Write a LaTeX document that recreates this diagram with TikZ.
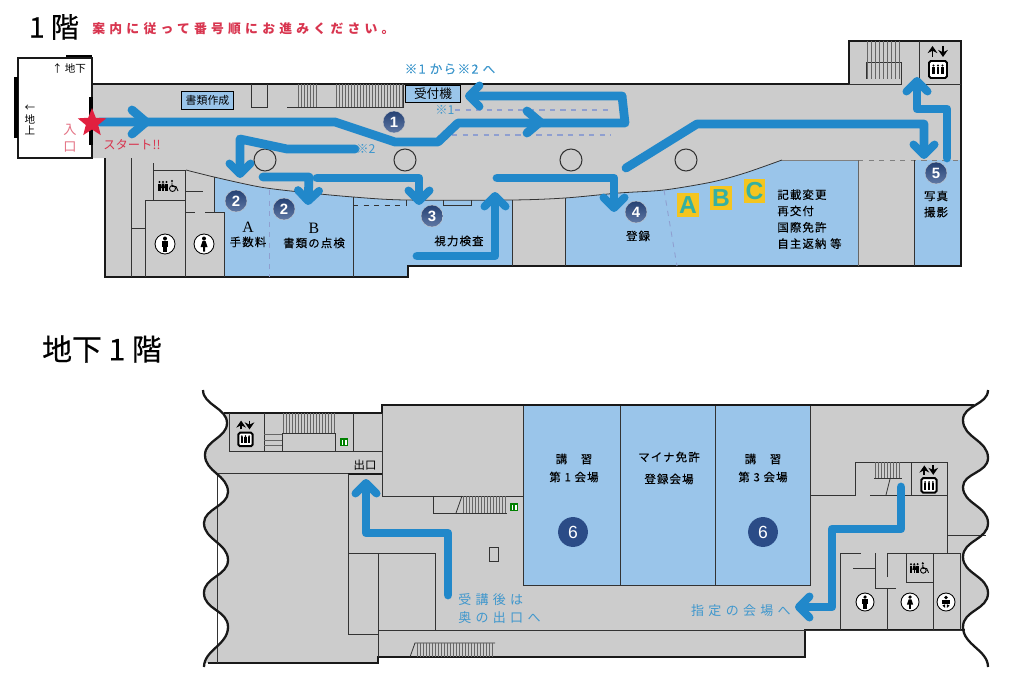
\documentclass[tikz,border=0pt]{standalone}
\usepackage{fontspec}
\setmainfont{Noto Sans CJK JP}
\newfontfamily\jptitle[FakeBold = 0.4]{Noto Sans CJK JP}
\newfontfamily\jpwide[LetterSpace=33]{Noto Sans CJK JP}
\newfontfamily\jpnote[LetterSpace=10, FakeBold = 0.12]{Noto Sans CJK JP}
\newfontfamily\tagfont{Liberation Sans}
\newfontfamily\romanfont{Liberation Serif}
\usetikzlibrary{arrows.meta, shapes.geometric}
\definecolor{floorgray}{HTML}{CCCCCC}
\definecolor{roomblue}{HTML}{9AC5EA}
\definecolor{routeblue}{HTML}{2188CA}
\definecolor{notered}{HTML}{D8354F}
\definecolor{startred}{HTML}{E1203F}
\definecolor{noteblue}{HTML}{3F97CC}
\definecolor{navy}{HTML}{2B4C87}
\definecolor{dashblue}{HTML}{8F9FD0}
\definecolor{tagyellow}{HTML}{F4C51F}
\definecolor{tagteal}{HTML}{35B0A2}
\tikzset{
    wall/.style = {line width = 0.45pt, draw = black!80},
    outer/.style = {line width = 0.85pt, draw = black!90},
    hatch/.style = {line width = 0.25pt, draw = black!60},
    route/.style = {line width = 5pt, draw = routeblue, line cap = round, line join = round},
    routearrow/.style = {route, -{Straight Barb[round, length = 6pt, width = 12pt, line width = 4.5pt]}},
    room/.style = {fill = roomblue, draw = none},
    lab/.style = {font = \jpnote\fontsize{6.5}{8}\selectfont, inner sep = 0pt, text = black},
    note/.style = {font = \jpwide\fontsize{7.4}{10}\selectfont, inner sep = 0pt, text = noteblue},
    marker/.style = {circle, minimum size = 12.5pt, inner sep = 0pt, draw = black!20, line width = 0.2pt, top color = navy!85!black, bottom color = navy!75!white, text = white, font = \tagfont\bfseries\fontsize{8.5}{9}\selectfont},
    seat/.style = {circle, fill = navy, minimum size = 17pt, inner sep = 0pt, text = white, font = \tagfont\fontsize{10}{11}\selectfont},
    desk/.style = {fill = tagyellow, minimum width = 12.5pt, minimum height = 13.5pt, inner sep = 0pt, text = tagteal, font = \tagfont\bfseries\fontsize{14}{14}\selectfont},
    man/.pic = {
        \draw[line width = 0.5pt, fill = white] (0, 0) circle[radius = 10];
        \fill (0, -5.5) circle[radius = 2];
        \fill (-3.2, -3) rectangle (3.2, 2.5);
        \fill (-2.2, 2) rectangle (2.2, 7.5);
    },
    woman/.pic = {
        \draw[line width = 0.5pt, fill = white] (0, 0) circle[radius = 10];
        \fill (0, -5.5) circle[radius = 2];
        \fill (-1.5, -3) -- (1.5, -3) -- (3.5, 3) -- (1, 3) -- (1, 7.5) -- (-1, 7.5) -- (-1, 3) -- (-3.5, 3) -- cycle;
    },
    baby/.pic = {
        \draw[line width = 0.5pt, fill = white] (0, 0) circle[radius = 10];
        \fill (0, -5) circle[radius = 2.2];
        \fill (-4, -2) rectangle (4, 2);
        \fill (-4, 4) -- (-1, 2.5) -- (-1, 6.5) -- cycle;
        \fill (4, 4) -- (1, 2.5) -- (1, 6.5) -- cycle;
    },
    toilet/.pic = {
        \fill (-9.5, -4) circle[radius = 1.2];
        \fill (-10.7, -2.5) rectangle (-8.3, 5);
        \fill (-6, -4) circle[radius = 1.2];
        \fill (-7.2, -2.5) -- (-4.8, -2.5) -- (-4, 2) -- (-8, 2) -- cycle;
        \fill (-6.7, 2) rectangle (-5.3, 5);
        \fill (-2.5, -4) circle[radius = 1.2];
        \fill (-3.7, -2.5) rectangle (-1.3, 5);
        \fill (3, -5) circle[radius = 1.2];
        \draw[line width = 0.5pt] (3, -3.5) -- (3, 0.5) -- (7, 0.5) -- (9, 5);
        \draw[line width = 0.5pt] (3.5, 2.5) circle[radius = 3];
    },
    lift/.pic = {
        \draw[line width = 1.1pt, fill = white, rounded corners = 1pt] (-9, -8) rectangle (9, 9);
        \foreach \x in {-4.5, 0, 4.5}{
            \fill (\x, -3.5) circle[radius = 1.2];
            \fill (\x - 1.4, -2) rectangle (\x + 1.4, 5.5);
        }
        \draw[line width = 1.1pt, -{Stealth[length = 4pt, width = 5.5pt]}] (-5.5, -12) -- (-5.5, -23);
        \draw[line width = 1.1pt, -{Stealth[length = 4pt, width = 5.5pt]}] (5, -23) -- (5, -12);
    },
    exitsign/.pic = {
        \fill[green!50!black] (-4, -4) rectangle (4, 4);
        \fill[white] (-2.5, -2.5) rectangle (2.5, 2.5);
        \fill[green!50!black] (-1, -2.5) rectangle (1, 2.5);
    },
}
\begin{document}
\begin{tikzpicture}[x = 0.02cm, y = -0.02cm]
    \useasboundingbox (0, 0) rectangle (1024, 696);

    \node[inner sep = 0pt, font = \jptitle\fontsize{16}{18}\selectfont] (titleone) at (54, 27) {1 階};
    \node[anchor = west, inner sep = 0pt, text = notered, font = \jpwide\bfseries\fontsize{7.3}{9}\selectfont] (guide) at (92, 29) {案内に従って番号順にお進みください。};
    \node[inner sep = 0pt, font = \jptitle\fontsize{17}{19}\selectfont] (titletwo) at (102, 349) {地下 1 階};

    \fill[floorgray] (92, 84) -- (849, 84) -- (849, 41) -- (961, 41) -- (961, 266) -- (408, 266) -- (408, 277) -- (105, 277) -- (105, 158) -- (92, 158) -- cycle;
    \begin{scope}
        \clip plot[smooth] coordinates {(186, 170) (214, 177) (260, 187) (300, 192) (353, 197) (405, 200) (512, 200) (565, 198) (619, 193) (664, 190) (712, 182) (745, 173) (782, 160)} -- (961, 160) -- (961, 277) -- (186, 277) -- cycle;
        \fill[room] (214, 160) rectangle (224, 212);
        \fill[room] (224, 160) rectangle (353, 277);
        \fill[room] (353, 160) rectangle (512, 266);
        \fill[room] (353, 266) rectangle (408, 277);
        \fill[room] (565, 160) rectangle (858, 266);
        \fill[room] (914, 160) rectangle (961, 266);
    \end{scope}
    \draw[wall] plot[smooth] coordinates {(186, 170) (214, 177) (260, 187) (300, 192) (353, 197) (405, 200) (512, 200) (565, 198) (619, 193) (664, 190) (712, 182) (745, 173) (782, 160)};
    \draw[wall, black!50] (782, 160) -- (858, 160);
    \draw[wall, black!50, dashed] (858, 160) -- (961, 160);

    \draw[outer] (105, 158) -- (105, 277) -- (408, 277) -- (408, 266) -- (961, 266) -- (961, 41) -- (849, 41) -- (849, 84) -- (92, 84);
    \draw[wall] (131, 158) -- (131, 277);
    \draw[wall] (131, 228) -- (145, 228);
    \draw[wall] (145, 277) -- (145, 200) -- (185, 200);
    \draw[wall] (153, 163) -- (153, 200);
    \draw[wall] (153, 170) -- (186, 170);
    \draw[wall] (185, 170) -- (185, 277);
    \draw[wall] (185, 191) -- (203, 191);
    \draw[wall] (185, 212) -- (195, 212);
    \draw[wall] (205, 212) -- (224, 212) -- (224, 277);
    \draw[wall] (214, 177) -- (214, 212);
    \draw[wall] (353, 197) -- (353, 277);
    \draw[wall] (512, 200) -- (512, 266);
    \draw[wall] (565, 198) -- (565, 266);
    \draw[wall, black!60] (858, 160) -- (858, 266);
    \draw[wall] (914, 160) -- (914, 266);
    \draw[wall, dashed] (353, 205) -- (405, 205);
    \draw[wall] (406, 200) -- (406, 206);
    \draw[wall] (443, 200) -- (443, 205) -- (471, 205) -- (471, 200);
    \draw[line width = 0.5pt, dashed, dashblue] (269, 190) -- (269, 277);
    \draw[line width = 0.5pt, dashed, dashblue] (664, 190) -- (677, 266);
    \draw[line width = 0.6pt, dashed, dashblue] (455, 110) -- (611, 110);
    \draw[line width = 0.6pt, dashed, dashblue] (452, 135) -- (611, 135);

    \draw[wall] (251, 84) -- (251, 107) -- (267, 107) -- (267, 84);
    \draw[wall] (287, 107) -- (403, 107) -- (403, 84);
    \foreach \x in {298, 301, ..., 316}
        \draw[hatch] (\x, 84) -- (\x, 107);
    \foreach \x in {336, 339, ..., 403}
        \draw[hatch] (\x, 84) -- (\x, 107);
    \draw[wall] (849, 84) -- (901, 84) -- (901, 62) -- (866, 62) -- (866, 79);
    \draw[wall] (919, 41) -- (919, 84) -- (961, 84);
    \foreach \x in {867, 871, ..., 899}
        \draw[hatch] (\x, 41) -- (\x, 79);

    \foreach \x in {265, 405, 571, 686}
        \draw[wall, line width = 0.6pt] (\x, 160) circle[radius = 11];

    \draw[outer, fill = white, line width = 1.2pt] (18, 58) rectangle (92, 158);
    \draw[line width = 1.4pt] (66, 56) -- (92, 56);
    \draw[line width = 2pt] (16, 77) -- (16, 138);
    \draw[line width = 2pt] (91, 97) -- (91, 145);
    \node[lab, font = \fontsize{6}{7}\selectfont] (downstair) at (69, 68) {↑ 地下};
    \node[lab, font = \fontsize{6}{8}\selectfont, align = center] (upstair) at (30, 120) {←\\[-1pt]地\\[-2pt]上};
    \node[inner sep = 0pt, text = notered!70, align = center, font = \fontsize{7.5}{9.5}\selectfont] (entrance) at (70, 138) {入\\口};

    \node[draw, line width = 0.6pt, fill = roomblue, minimum width = 30pt, minimum height = 10.5pt, inner sep = 0pt, font = \fontsize{6.2}{7}\selectfont] (docs) at (207.5, 100.5) {書類作成};
    \node[draw, line width = 0.7pt, fill = roomblue, minimum width = 31.5pt, minimum height = 10pt, inner sep = 0pt, font = \fontsize{7.2}{8}\selectfont] (kiosk) at (433, 94) {受付機};

    \draw[route] (100, 122) -- (335, 122) -- (395, 142) -- (438, 142) -- (458, 123) -- (625, 123) -- (622, 96) -- (480, 96);
    \draw[routearrow] (622, 96) -- (465, 96);
    \draw[route] (132, 110) -- (146, 122) -- (132, 134);
    \draw[route] (527, 111) -- (540, 122) -- (527, 133);
    \draw[routearrow] (355, 149) -- (287, 149) -- (240, 139) -- (240, 178);
    \draw[routearrow] (263, 177) -- (309, 177) -- (308, 205);
    \draw[routearrow] (317, 178) -- (419, 178) -- (419, 205);
    \draw[routearrow] (417, 256) -- (495, 256) -- (495, 192);
    \draw[routearrow] (497, 178) -- (614, 178) -- (614, 212);
    \draw[routearrow] (626, 168) -- (697, 124) -- (924, 124) -- (924, 159);
    \draw[routearrow] (947, 158) -- (947, 109) -- (917, 109) -- (917, 77);

    \node[star, star points = 5, star point ratio = 2.3, fill = startred, minimum size = 17pt, inner sep = 0pt] (start) at (92, 123) {};
    \node[anchor = west, inner sep = 0pt, text = notered, font = \fontsize{7}{9}\selectfont] (startlab) at (103, 145) {スタート!!};
    \node[inner sep = 0pt, text = noteblue, font = \jpnote\fontsize{7.2}{9}\selectfont] (fromto) at (450, 69) {※1 から※2 へ};
    \node[note, font = \fontsize{7}{9}\selectfont] (markone) at (445, 110) {※1};
    \node[note, font = \fontsize{7}{9}\selectfont] (marktwo) at (366, 149) {※2};

    \node[marker] (stepone) at (394, 122) {1};
    \node[marker] (steptwoa) at (236, 201) {2};
    \node[marker] (steptwob) at (284, 209) {2};
    \node[marker] (stepthree) at (432, 216) {3};
    \node[marker] (stepfour) at (636, 212) {4};
    \node[marker] (stepfive) at (936, 173) {5};

    \node[lab, font = \romanfont\fontsize{9}{10}\selectfont] (roomA) at (248, 227) {A};
    \node[lab] (fee) at (248, 242) {手数料};
    \node[lab, font = \romanfont\fontsize{9}{10}\selectfont] (roomB) at (314, 228) {B};
    \node[lab] (check) at (314, 243) {書類の点検};
    \node[lab] (eyes) at (459, 241) {視力検査};
    \node[lab] (register) at (638, 236) {登録};
    \node[lab, align = center, font = \jpnote\fontsize{6.5}{9.2}\selectfont] (photo) at (936, 204) {写真\\撮影};
    \node[lab, anchor = north west, align = left, font = \jpnote\fontsize{6.5}{9.3}\selectfont] (counter) at (777, 189) {記載変更\\再交付\\国際免許\\自主返納 等};
    \node[desk] (deskA) at (688, 205) {A};
    \node[desk] (deskB) at (721, 198) {B};
    \node[desk] (deskC) at (754.5, 191) {C};

    \pic at (165, 244) {man};
    \pic at (204, 244) {woman};
    \pic at (169, 186) {toilet};
    \pic at (938, 69) {lift};

    \begin{scope}
        \clip (100, 413) -- (382, 413) -- (382, 405) -- (1100, 405) -- (1100, 630) -- (805, 630) -- (805, 657) -- (378, 657) -- (378, 663) -- (100, 663) -- cycle;
        \fill[floorgray] (203, 390) .. controls (203, 405) and (227, 408) .. (227, 423) .. controls (227, 438) and (205, 440) .. (205, 455) .. controls (205, 472) and (228, 475) .. (228, 492) .. controls (228, 506) and (204, 509) .. (204, 523) .. controls (204, 540) and (228, 543) .. (228, 560) .. controls (228, 576) and (204, 577) .. (204, 593) .. controls (204, 610) and (228, 610) .. (228, 627) .. controls (228, 645) and (204, 650) .. (204, 667) -- (988, 667) .. controls (988, 650) and (963, 645) .. (963, 627) .. controls (963, 610) and (988, 610) .. (988, 593) .. controls (988, 576) and (963, 574) .. (963, 557) .. controls (963, 540) and (988, 540) .. (988, 523) .. controls (988, 506) and (963, 504) .. (963, 487) .. controls (963, 473) and (988, 473) .. (988, 458) .. controls (988, 440) and (963, 438) .. (963, 420) .. controls (963, 405) and (988, 405) .. (988, 390) -- cycle;
    \end{scope}
    \fill[room] (523, 405) rectangle (810, 585);
    \draw[wall] (523, 405) rectangle (810, 585);
    \draw[wall] (620, 405) -- (620, 585);
    \draw[wall] (715, 405) -- (715, 585);

    \draw[outer] (224, 413) -- (382, 413) -- (382, 405) -- (974, 405);
    \draw[outer] (208, 663) -- (378, 663) -- (378, 657) -- (805, 657) -- (805, 630) -- (965, 630);

    \draw[wall] (229, 413) -- (229, 451) -- (382, 451);
    \draw[wall] (264, 413) -- (264, 451);
    \draw[wall] (282, 451) -- (282, 433) -- (335, 433) -- (335, 451);
    \draw[wall] (353, 413) -- (353, 451);
    \foreach \x in {283, 286, ..., 334}
        \draw[hatch] (\x, 413) -- (\x, 433);
    \foreach \y in {434, 440, 445}
        \draw[hatch] (264, \y) -- (282, \y);
    \draw[wall] (217, 473) -- (348, 473);
    \draw[outer] (348, 474) -- (382, 474);
    \draw[wall] (217, 473) -- (217, 663);
    \draw[wall] (382, 413) -- (382, 496) -- (523, 496);
    \draw[wall] (348, 474) -- (348, 634) -- (378, 634);
    \draw[wall] (348, 553) -- (435, 553) -- (435, 630);
    \draw[wall] (378, 553) -- (378, 657);
    \draw[wall] (378, 630) -- (965, 630);
    \draw[wall] (433, 496) -- (433, 513) -- (507, 513);
    \draw[wall] (456, 513) -- (462, 496);
    \foreach \x in {463, 466, ..., 505}
        \draw[hatch] (\x, 496) -- (\x, 513);
    \draw[wall] (489, 547) rectangle (498, 561);
    \draw[wall] (410, 657) -- (415, 643) -- (495, 643);
    \foreach \x in {417, 420, ..., 494}
        \draw[hatch] (\x, 643) -- (\x, 657);
    \pic at (344, 442) {exitsign};
    \pic at (514, 507) {exitsign};

    \draw[wall] (810, 495) -- (855, 495) -- (855, 462) -- (947, 462) -- (947, 553);
    \draw[wall] (870, 495) -- (947, 495);
    \draw[wall] (911, 462) -- (911, 495);
    \draw[wall] (947, 535) -- (986, 535);
    \draw[wall] (874, 478) -- (902, 478);
    \draw[wall] (886, 495) -- (890, 479);
    \foreach \x in {875, 878, ..., 899}
        \draw[hatch] (\x, 462) -- (\x, 478);
    \draw[wall] (840, 630) -- (840, 553) -- (861, 553);
    \draw[wall] (875, 553) -- (875, 588) -- (896, 588);
    \draw[wall] (853, 568) -- (875, 568);
    \draw[wall] (887, 577) -- (887, 553) -- (960, 553) -- (960, 630);
    \draw[wall] (887, 589) -- (887, 630);
    \draw[wall] (906, 553) -- (906, 582) -- (933, 582);
    \draw[wall] (933, 553) -- (933, 630);

    \draw[line width = 1.3pt, black!90] (203, 390) .. controls (203, 405) and (227, 408) .. (227, 423) .. controls (227, 438) and (205, 440) .. (205, 455) .. controls (205, 472) and (228, 475) .. (228, 492) .. controls (228, 506) and (204, 509) .. (204, 523) .. controls (204, 540) and (228, 543) .. (228, 560) .. controls (228, 576) and (204, 577) .. (204, 593) .. controls (204, 610) and (228, 610) .. (228, 627) .. controls (228, 645) and (204, 650) .. (204, 667);
    \draw[line width = 1.3pt, black!90] (988, 390) .. controls (988, 405) and (963, 405) .. (963, 420) .. controls (963, 438) and (988, 440) .. (988, 458) .. controls (988, 473) and (963, 473) .. (963, 487) .. controls (963, 504) and (988, 506) .. (988, 523) .. controls (988, 540) and (963, 540) .. (963, 557) .. controls (963, 574) and (988, 576) .. (988, 593) .. controls (988, 610) and (963, 610) .. (963, 627) .. controls (963, 645) and (988, 650) .. (988, 667);

    \pic[scale = 0.8] at (245.5, 439) {lift};
    \pic[scale = 0.85] at (929, 485) {lift};
    \pic[scale = 0.9] at (865, 602) {man};
    \pic[scale = 0.9] at (910, 602) {woman};
    \pic[scale = 0.9] at (946, 602) {baby};
    \pic[scale = 0.95] at (920, 568) {toilet};

    \draw[routearrow] (448, 595) -- (448, 533) -- (366, 533) -- (366, 479);
    \draw[routearrow] (901, 487) -- (901, 529) -- (832, 529) -- (832, 607) -- (795, 607);

    \node[inner sep = 0pt, font = \fontsize{6.5}{8}\selectfont] (exit) at (365, 465) {出口};
    \node[note, anchor = west] (afterone) at (458, 600) {受講後は};
    \node[note, anchor = west] (aftertwo) at (458, 618) {奥の出口へ};
    \node[note, anchor = east] (goroom) at (791, 611) {指定の会場へ};

    \node[lab] (hallone) at (574, 459) {講　習};
    \node[lab] (halloneb) at (574, 477) {第 1 会場};
    \node[lab] (mynaa) at (669, 457) {マイナ免許};
    \node[lab] (mynab) at (669, 479) {登録会場};
    \node[lab] (hallthree) at (763, 459) {講　習};
    \node[lab] (hallthreeb) at (763, 477) {第 3 会場};
    \node[seat] (seatone) at (573, 532) {6};
    \node[seat] (seatthree) at (763, 532) {6};
\end{tikzpicture}
\end{document}
